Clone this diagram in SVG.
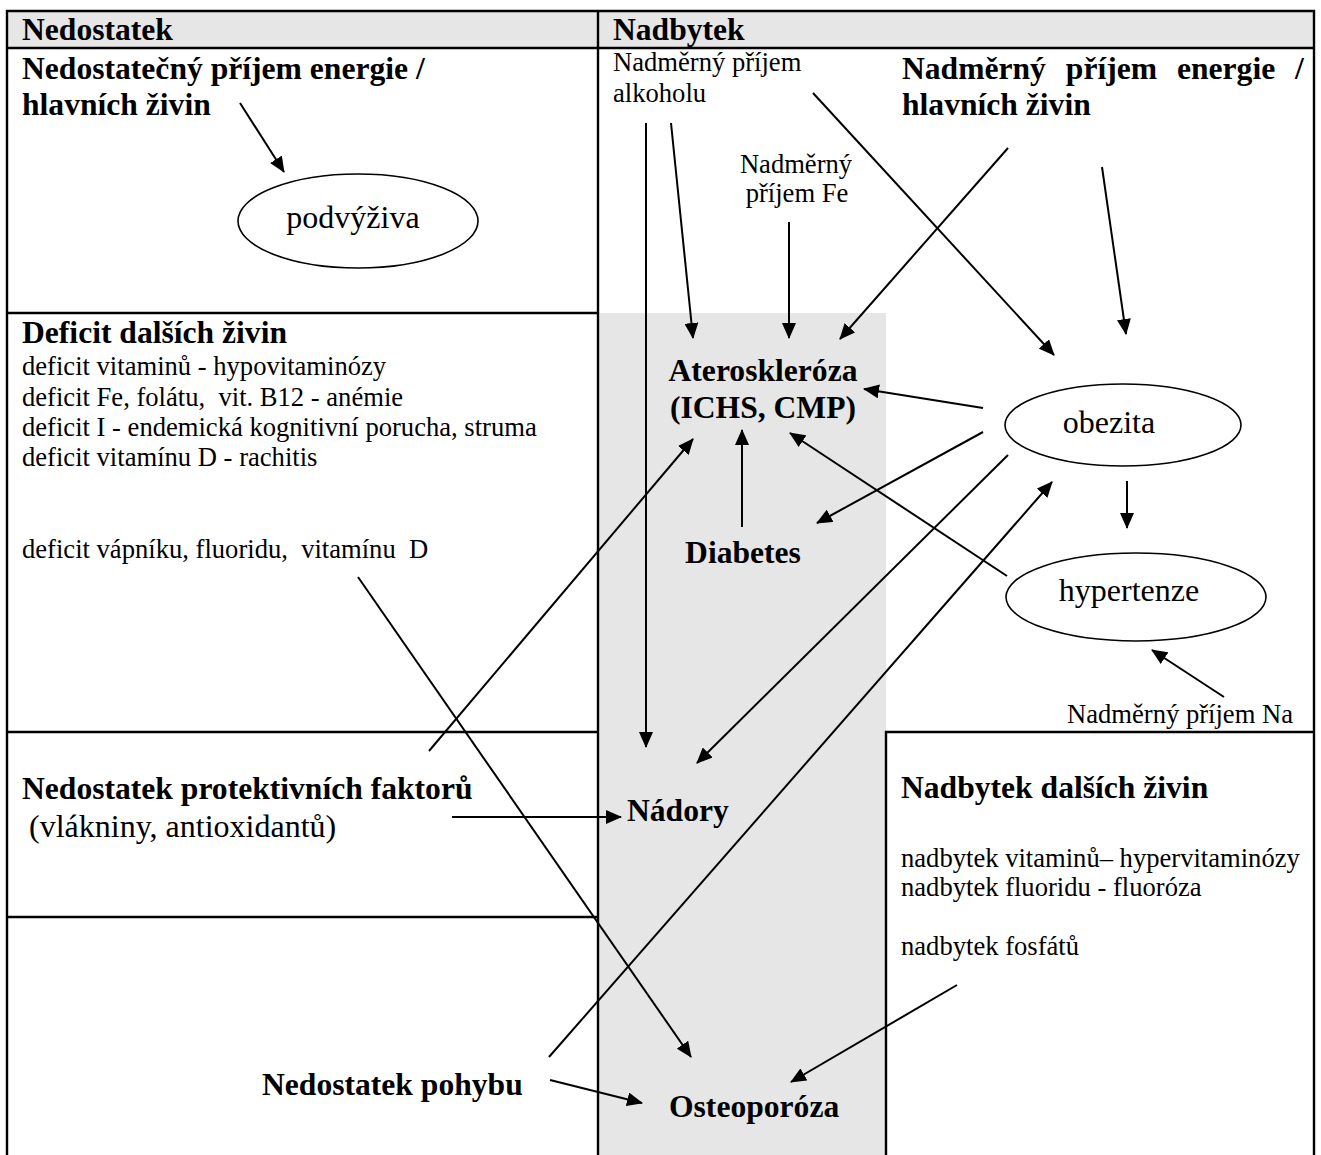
<svg xmlns="http://www.w3.org/2000/svg" width="1321" height="1155" viewBox="0 0 1321 1155">
<defs>
<style>
.hb{font-family:"Liberation Serif","Times New Roman",serif;font-weight:bold;font-size:31.6px;fill:#000}
.r12{font-family:"Liberation Serif","Times New Roman",serif;font-size:26.6px;fill:#000}
.r14{font-family:"Liberation Serif","Times New Roman",serif;font-size:32px;fill:#000}
.mid{text-anchor:middle}
.end{text-anchor:end}
.fr{stroke:#000;stroke-width:2.4;fill:none}
.ell{stroke:#000;stroke-width:1.6;fill:#fff}
.c{stroke:#000;stroke-width:2;fill:none;marker-end:url(#ah)}
</style>
<marker id="ah" markerUnits="userSpaceOnUse" markerWidth="17" markerHeight="14" refX="15" refY="7" orient="auto">
<path d="M0,0 L16,7 L0,14 z" fill="#000"/>
</marker>
</defs>
<rect width="1321" height="1155" fill="#fff"/>
<g id="frame">
<rect x="7" y="11" width="1307" height="37" fill="#e6e6e6"/>
<rect x="598" y="313" width="288" height="842" fill="#e6e6e6"/>
<rect x="886" y="732" width="428" height="423" fill="#fff"/>
<path class="fr" d="M7,1155 V11 H1314 V1155 M7,48 H1314 M598,11 V1155 M7,313 H598 M7,732 H598 M7,917 H598 M886,1155 V732 H1314"/>
</g>
<g id="connectors">
<line class="c" x1="240" y1="103" x2="284" y2="172"/>
<line class="c" x1="646" y1="123" x2="646" y2="747"/>
<line class="c" x1="671" y1="123" x2="693" y2="338"/>
<line class="c" x1="789" y1="222" x2="789" y2="338"/>
<line class="c" x1="813" y1="93" x2="1054" y2="355"/>
<line class="c" x1="1008" y1="148" x2="840" y2="339"/>
<line class="c" x1="1102" y1="167" x2="1126" y2="334"/>
<line class="c" x1="983" y1="408" x2="864" y2="389"/>
<line class="c" x1="983" y1="432" x2="817" y2="523"/>
<line class="c" x1="1008" y1="455" x2="697" y2="763"/>
<line class="c" x1="1127" y1="481" x2="1127" y2="528"/>
<line class="c" x1="1007" y1="576" x2="790" y2="433"/>
<line class="c" x1="1224" y1="697" x2="1152" y2="650"/>
<line class="c" x1="742" y1="527" x2="742" y2="430"/>
<line class="c" x1="429" y1="751" x2="693" y2="439"/>
<line class="c" x1="452" y1="817" x2="621" y2="817"/>
<line class="c" x1="358" y1="577" x2="691" y2="1057"/>
<line class="c" x1="549" y1="1057" x2="1052" y2="482"/>
<line class="c" x1="550" y1="1080" x2="642" y2="1103"/>
<line class="c" x1="957" y1="985" x2="791" y2="1082"/>
</g>
<g id="hdr-nedostatek"><text class="hb" x="22" y="40">Nedostatek</text></g>
<g id="hdr-nadbytek"><text class="hb" x="613" y="40">Nadbytek</text></g>
<g id="n-nedostatecny">
<text class="hb" x="22" y="79">Nedostatečný příjem energie /</text>
<text class="hb" x="22" y="115">hlavních živin</text>
</g>
<g id="n-podvyziva">
<ellipse class="ell" cx="358" cy="221" rx="120" ry="47"/>
<text class="r14 mid" x="353" y="228">podvýživa</text>
</g>
<g id="n-deficit">
<text class="hb" x="22" y="343">Deficit dalších živin</text>
<text class="r12" x="22" y="375">deficit vitaminů - hypovitaminózy</text>
<text class="r12" xml:space="preserve" x="22" y="406">deficit Fe, folátu,  vit. B12 - anémie</text>
<text class="r12" x="22" y="436">deficit I - endemická kognitivní porucha, struma</text>
<text class="r12" x="22" y="466">deficit vitamínu D - rachitis</text>
<text class="r12" xml:space="preserve" x="22" y="558">deficit vápníku, fluoridu,  vitamínu  D</text>
</g>
<g id="n-protektivni">
<text class="hb" x="22" y="799">Nedostatek protektivních faktorů</text>
<text class="r14" x="29" y="837">(vlákniny, antioxidantů)</text>
</g>
<g id="n-pohyb"><text class="hb" x="262" y="1095">Nedostatek pohybu</text></g>
<g id="n-alkohol">
<text class="r12" x="613" y="71">Nadměrný příjem</text>
<text class="r12" x="613" y="102">alkoholu</text>
</g>
<g id="n-fe">
<text class="r12 mid" x="796" y="173">Nadměrný</text>
<text class="r12 mid" x="797" y="202">příjem Fe</text>
</g>
<g id="n-nadmerny">
<text class="hb" word-spacing="12" x="902" y="79">Nadměrný příjem energie /</text>
<text class="hb" x="902" y="115">hlavních živin</text>
</g>
<g id="n-ateroskleroza">
<text class="hb mid" x="763" y="381">Ateroskleróza</text>
<text class="hb mid" x="763" y="418">(ICHS, CMP)</text>
</g>
<g id="n-diabetes"><text class="hb mid" x="743" y="563">Diabetes</text></g>
<g id="n-nadory"><text class="hb" x="627" y="821">Nádory</text></g>
<g id="n-osteoporoza"><text class="hb" x="669" y="1117">Osteoporóza</text></g>
<g id="n-obezita">
<ellipse class="ell" cx="1123" cy="425" rx="118" ry="41"/>
<text class="r14 mid" x="1109" y="433">obezita</text>
</g>
<g id="n-hypertenze">
<ellipse class="ell" cx="1136" cy="597" rx="130" ry="44"/>
<text class="r14 mid" x="1129" y="601">hypertenze</text>
</g>
<g id="n-na"><text class="r12 end" x="1293" y="723">Nadměrný příjem Na</text></g>
<g id="n-nadbytek-dalsich">
<text class="hb" x="901" y="798">Nadbytek dalších živin</text>
<text class="r12" x="901" y="867">nadbytek vitaminů– hypervitaminózy</text>
<text class="r12" x="901" y="896">nadbytek fluoridu - fluoróza</text>
<text class="r12" x="901" y="955">nadbytek fosfátů</text>
</g>
</svg>
